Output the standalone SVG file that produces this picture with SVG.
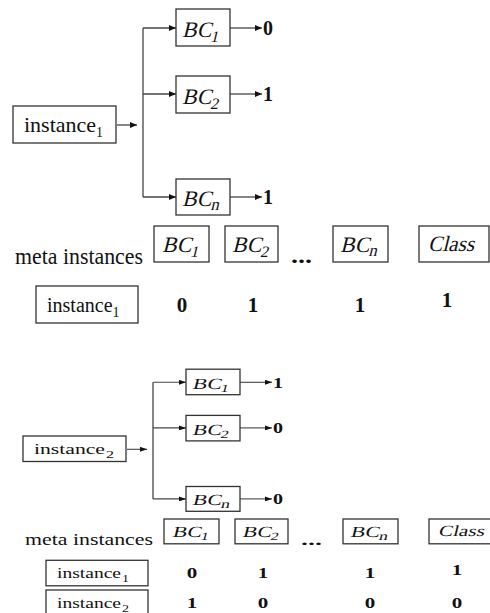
<svg xmlns="http://www.w3.org/2000/svg" width="490" height="613" viewBox="0 0 490 613">
<defs>
<marker id="ah" markerUnits="userSpaceOnUse" markerWidth="7" markerHeight="6" refX="7" refY="3" orient="auto">
<path d="M0,0 L7,3 L0,6 z" fill="#111"/>
</marker>
<marker id="ah2" markerUnits="userSpaceOnUse" markerWidth="7" markerHeight="5" refX="7" refY="2.5" orient="auto">
<path d="M0,0 L7,2.5 L0,5 z" fill="#111"/>
</marker>
<style>
.box{fill:#fff;stroke:#333;stroke-width:1.3}
.ln{fill:none;stroke:#444;stroke-width:1.3}
.ar{fill:none;stroke:#444;stroke-width:1.3;marker-end:url(#ah)}
.ar2{fill:none;stroke:#444;stroke-width:1.1;marker-end:url(#ah2)}
text{fill:#111}
.b{font-weight:bold}
</style>
</defs>
<rect width="490" height="613" fill="#fff"/>

<!-- Top diagram -->
<g id="connectors1">
<line class="ar" x1="117" y1="125" x2="137" y2="125"/>
<line class="ln" x1="143" y1="28" x2="143" y2="197"/>
<line class="ar" x1="143" y1="28" x2="176" y2="28"/>
<line class="ar" x1="143" y1="94" x2="176" y2="94"/>
<line class="ar" x1="143" y1="197" x2="176" y2="197"/>
<line class="ar" x1="230" y1="28" x2="262" y2="28"/>
<line class="ar" x1="230" y1="94" x2="262" y2="94"/>
<line class="ar" x1="230" y1="197" x2="262" y2="197"/>
</g>
<g id="inst1">
<rect class="box" x="13" y="106" width="103" height="37"/>
<text font-family="Times New Roman, Liberation Serif, serif" x="24" y="132" font-size="22">instance<tspan font-size="14" dy="5">1</tspan></text>
</g>
<g id="bc1">
<rect class="box" x="176" y="9" width="54" height="37"/>
<text font-family="Times New Roman, Liberation Serif, serif" transform="translate(182,37) skewX(-14)" font-size="22">BC<tspan font-size="16" dy="5">1</tspan></text>
</g>
<g id="bc2">
<rect class="box" x="176" y="76" width="54" height="37"/>
<text font-family="Times New Roman, Liberation Serif, serif" transform="translate(182,104) skewX(-14)" font-size="22">BC<tspan font-size="16" dy="5">2</tspan></text>
</g>
<g id="bcn">
<rect class="box" x="176" y="179" width="54" height="36"/>
<text font-family="Times New Roman, Liberation Serif, serif" transform="translate(182,206) skewX(-14)" font-size="22">BC<tspan font-size="17" dy="4">n</tspan></text>
</g>
<g id="out1">
<text font-family="Times New Roman, Liberation Serif, serif" class="b" font-size="20" x="263" y="35">0</text>
<text font-family="Times New Roman, Liberation Serif, serif" class="b" font-size="20" x="263" y="101">1</text>
<text font-family="Times New Roman, Liberation Serif, serif" class="b" font-size="20" x="263" y="204">1</text>
</g>

<!-- Top table -->
<g id="meta1">
<text font-family="Times New Roman, Liberation Serif, serif" x="15" y="264" font-size="23" textLength="128" lengthAdjust="spacingAndGlyphs">meta instances</text>
<g id="m1-bc1"><rect class="box" x="154" y="226" width="55" height="36"/><text font-family="Times New Roman, Liberation Serif, serif" transform="translate(162,252) skewX(-14)" font-size="22">BC<tspan font-size="16" dy="5">1</tspan></text></g>
<g id="m1-bc2"><rect class="box" x="225" y="226" width="53" height="36"/><text font-family="Times New Roman, Liberation Serif, serif" transform="translate(232,252) skewX(-14)" font-size="22">BC<tspan font-size="16" dy="5">2</tspan></text></g>
<text font-family="Times New Roman, Liberation Serif, serif" class="b" x="291" y="263" font-size="22" textLength="21" lengthAdjust="spacingAndGlyphs">...</text>
<g id="m1-bcn"><rect class="box" x="333" y="226" width="55" height="36"/><text font-family="Times New Roman, Liberation Serif, serif" transform="translate(340,252) skewX(-14)" font-size="22">BC<tspan font-size="17" dy="4">n</tspan></text></g>
<g id="m1-class"><rect class="box" x="419" y="226" width="70" height="36"/><text font-family="Times New Roman, Liberation Serif, serif" transform="translate(428,251) skewX(-14)" font-size="22" textLength="46" lengthAdjust="spacingAndGlyphs">Class</text></g>
<g id="m1-inst1"><rect class="box" x="36" y="286" width="102" height="37"/><text font-family="Times New Roman, Liberation Serif, serif" x="47" y="312" font-size="20">instance<tspan font-size="14" dy="5">1</tspan></text></g>
<g id="m1-vals">
<text font-family="Times New Roman, Liberation Serif, serif" class="b" font-size="21" text-anchor="middle" x="182" y="312">0</text>
<text font-family="Times New Roman, Liberation Serif, serif" class="b" font-size="21" text-anchor="middle" x="253" y="312">1</text>
<text font-family="Times New Roman, Liberation Serif, serif" class="b" font-size="21" text-anchor="middle" x="360" y="312">1</text>
<text font-family="Times New Roman, Liberation Serif, serif" class="b" font-size="21" text-anchor="middle" x="447" y="307">1</text>
</g>
</g>

<!-- Bottom diagram -->
<g id="connectors2">
<line class="ar2" x1="127" y1="449.3" x2="147" y2="449.3"/>
<line class="ln" x1="153" y1="382.3" x2="153" y2="498.9"/>
<line class="ar2" x1="153" y1="382.3" x2="186" y2="382.3"/>
<line class="ar2" x1="153" y1="427.9" x2="186" y2="427.9"/>
<line class="ar2" x1="153" y1="498.9" x2="186" y2="498.9"/>
<line class="ar2" x1="240" y1="382.3" x2="272" y2="382.3"/>
<line class="ar2" x1="240" y1="427.9" x2="272" y2="427.9"/>
<line class="ar2" x1="240" y1="498.9" x2="272" y2="498.9"/>
</g>
<g id="inst2">
<rect class="box" x="23" y="436" width="103" height="25.5"/>
<text font-family="Times New Roman, Liberation Serif, serif" x="34" y="454" font-size="15.5" textLength="71" lengthAdjust="spacingAndGlyphs">instance</text>
<text font-family="Times New Roman, Liberation Serif, serif" x="106" y="457.5" font-size="10" textLength="8" lengthAdjust="spacingAndGlyphs">2</text>
</g>
<g id="b-bc1">
<rect class="box" x="186" y="369.2" width="54" height="25.5"/>
<g transform="translate(192,388.5) skewX(-14)">
<text font-family="Times New Roman, Liberation Serif, serif" x="0" y="0" font-size="15.5" textLength="29" lengthAdjust="spacingAndGlyphs">BC</text>
<text font-family="Times New Roman, Liberation Serif, serif" x="29" y="3.5" font-size="11" textLength="8" lengthAdjust="spacingAndGlyphs">1</text>
</g>
</g>
<g id="b-bc2">
<rect class="box" x="186" y="415.4" width="54" height="25.5"/>
<g transform="translate(192,434.8) skewX(-14)">
<text font-family="Times New Roman, Liberation Serif, serif" x="0" y="0" font-size="15.5" textLength="29" lengthAdjust="spacingAndGlyphs">BC</text>
<text font-family="Times New Roman, Liberation Serif, serif" x="29" y="3.5" font-size="11" textLength="8" lengthAdjust="spacingAndGlyphs">2</text>
</g>
</g>
<g id="b-bcn">
<rect class="box" x="186" y="486.5" width="54" height="24.8"/>
<g transform="translate(192,505.1) skewX(-14)">
<text font-family="Times New Roman, Liberation Serif, serif" x="0" y="0" font-size="15.5" textLength="29" lengthAdjust="spacingAndGlyphs">BC</text>
<text font-family="Times New Roman, Liberation Serif, serif" x="29" y="2.7" font-size="12" textLength="9" lengthAdjust="spacingAndGlyphs">n</text>
</g>
</g>
<g id="out2">
<text font-family="Times New Roman, Liberation Serif, serif" class="b" x="273" y="387.5" font-size="14" textLength="10" lengthAdjust="spacingAndGlyphs">1</text>
<text font-family="Times New Roman, Liberation Serif, serif" class="b" x="273" y="433" font-size="14" textLength="10" lengthAdjust="spacingAndGlyphs">0</text>
<text font-family="Times New Roman, Liberation Serif, serif" class="b" x="273" y="504" font-size="14" textLength="10" lengthAdjust="spacingAndGlyphs">0</text>
</g>

<!-- Bottom table -->
<g id="meta2">
<text font-family="Times New Roman, Liberation Serif, serif" x="25" y="545.2" font-size="16" textLength="128" lengthAdjust="spacingAndGlyphs">meta instances</text>
<g id="m2-bc1"><rect class="box" x="164" y="519" width="55" height="24.8"/>
<g transform="translate(172,536.9) skewX(-14)">
<text font-family="Times New Roman, Liberation Serif, serif" x="0" y="0" font-size="15.5" textLength="29" lengthAdjust="spacingAndGlyphs">BC</text>
<text font-family="Times New Roman, Liberation Serif, serif" x="29" y="3.5" font-size="11" textLength="8" lengthAdjust="spacingAndGlyphs">1</text>
</g></g>
<g id="m2-bc2"><rect class="box" x="235" y="519" width="53" height="24.8"/>
<g transform="translate(242,536.9) skewX(-14)">
<text font-family="Times New Roman, Liberation Serif, serif" x="0" y="0" font-size="15.5" textLength="29" lengthAdjust="spacingAndGlyphs">BC</text>
<text font-family="Times New Roman, Liberation Serif, serif" x="29" y="3.5" font-size="11" textLength="8" lengthAdjust="spacingAndGlyphs">2</text>
</g></g>
<text font-family="Times New Roman, Liberation Serif, serif" class="b" x="301" y="544.5" font-size="15" textLength="21" lengthAdjust="spacingAndGlyphs">...</text>
<g id="m2-bcn"><rect class="box" x="343" y="519" width="55" height="24.8"/>
<g transform="translate(350,536.9) skewX(-14)">
<text font-family="Times New Roman, Liberation Serif, serif" x="0" y="0" font-size="15.5" textLength="29" lengthAdjust="spacingAndGlyphs">BC</text>
<text font-family="Times New Roman, Liberation Serif, serif" x="29" y="2.7" font-size="12" textLength="9" lengthAdjust="spacingAndGlyphs">n</text>
</g></g>
<g id="m2-class"><rect class="box" x="429" y="519" width="70" height="24.8"/>
<text font-family="Times New Roman, Liberation Serif, serif" transform="translate(438,536.2) skewX(-14)" font-size="15.5" textLength="46" lengthAdjust="spacingAndGlyphs">Class</text></g>
<g id="m2-inst1"><rect class="box" x="46" y="560.3" width="102" height="25.5"/>
<text font-family="Times New Roman, Liberation Serif, serif" x="57" y="578.3" font-size="14" textLength="64" lengthAdjust="spacingAndGlyphs">instance</text>
<text font-family="Times New Roman, Liberation Serif, serif" x="122" y="581.8" font-size="10" textLength="7" lengthAdjust="spacingAndGlyphs">1</text></g>
<g id="m2-inst2"><rect class="box" x="46" y="590" width="102" height="25.5"/>
<text font-family="Times New Roman, Liberation Serif, serif" x="57" y="608" font-size="14" textLength="64" lengthAdjust="spacingAndGlyphs">instance</text>
<text font-family="Times New Roman, Liberation Serif, serif" x="122" y="611.5" font-size="10" textLength="7" lengthAdjust="spacingAndGlyphs">2</text></g>
<g id="m2-vals">
<text font-family="Times New Roman, Liberation Serif, serif" class="b" font-size="15" text-anchor="middle" x="192" y="578.3" textLength="10.5" lengthAdjust="spacingAndGlyphs">0</text>
<text font-family="Times New Roman, Liberation Serif, serif" class="b" font-size="15" text-anchor="middle" x="263" y="578.3" textLength="10.5" lengthAdjust="spacingAndGlyphs">1</text>
<text font-family="Times New Roman, Liberation Serif, serif" class="b" font-size="15" text-anchor="middle" x="370" y="578.3" textLength="10.5" lengthAdjust="spacingAndGlyphs">1</text>
<text font-family="Times New Roman, Liberation Serif, serif" class="b" font-size="15" text-anchor="middle" x="457" y="575" textLength="10.5" lengthAdjust="spacingAndGlyphs">1</text>
<text font-family="Times New Roman, Liberation Serif, serif" class="b" font-size="15" text-anchor="middle" x="192" y="608" textLength="10.5" lengthAdjust="spacingAndGlyphs">1</text>
<text font-family="Times New Roman, Liberation Serif, serif" class="b" font-size="15" text-anchor="middle" x="263" y="608" textLength="10.5" lengthAdjust="spacingAndGlyphs">0</text>
<text font-family="Times New Roman, Liberation Serif, serif" class="b" font-size="15" text-anchor="middle" x="370" y="608" textLength="10.5" lengthAdjust="spacingAndGlyphs">0</text>
<text font-family="Times New Roman, Liberation Serif, serif" class="b" font-size="15" text-anchor="middle" x="457" y="608" textLength="10.5" lengthAdjust="spacingAndGlyphs">0</text>
</g>
</g>
</svg>
